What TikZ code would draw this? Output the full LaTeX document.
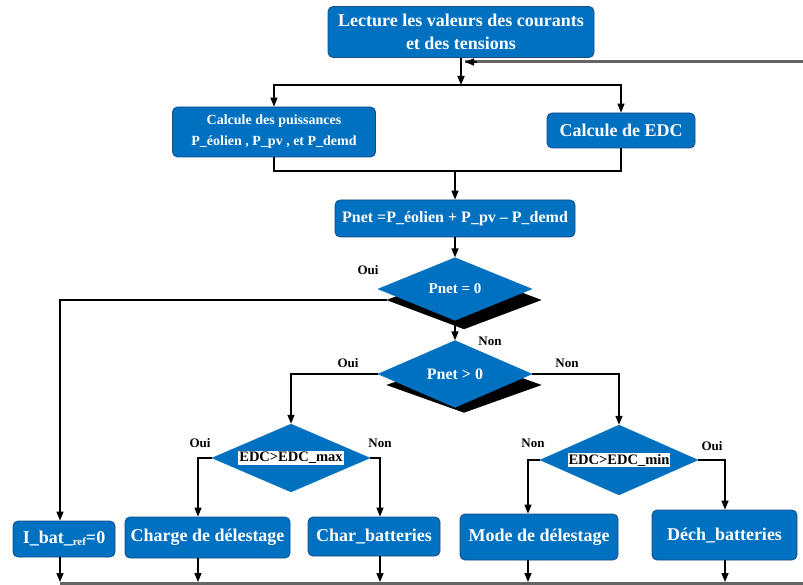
\documentclass[tikz,border=0pt]{standalone}
\usepackage{fontspec}
\setmainfont{Liberation Serif}
\usetikzlibrary{shapes.geometric,arrows.meta,calc}
\definecolor{boxblue}{RGB}{0,112,192}
\definecolor{boxedge}{RGB}{25,75,135}
\definecolor{fbgray}{RGB}{100,100,100}
\newcommand{\fsz}[2]{\fontsize{#1}{#2}\selectfont\bfseries}
\begin{document}
\begin{tikzpicture}[x=1pt,y=-1pt,
  proc/.style={rectangle, rounded corners=5pt, fill=boxblue, draw=boxedge, line width=0.8pt, text=white, align=center, inner sep=0pt},
  dec/.style={diamond, fill=boxblue, draw=boxblue, inner sep=0pt, text=white},
  shad/.style={diamond, fill=black, draw=black, inner sep=0pt},
  conn/.style={line width=1.5pt, draw=black},
  arr/.style={conn, -{Triangle[length=9pt,width=7pt]}},
  fb/.style={line width=3pt, draw=fbgray},
  lab/.style={font=\fsz{13}{15}, text=black, inner sep=0pt},
  cond/.style={fill=white, text=black, inner sep=1pt, font=\fsz{14.5}{16}}
]
\useasboundingbox (0,0) rectangle (803,585);
\clip (0,0) rectangle (803,585);

% coordinates
\coordinate (j1) at (461,85);
\coordinate (j2) at (455,171);
\coordinate (fbtip) at (465,62);
\coordinate (fbc1) at (830,583);
\coordinate (fbc2) at (830,62);
\coordinate (bl) at (60,583);
\coordinate (xa) at (60,0);
\coordinate (xb) at (198,0);
\coordinate (xc) at (380,0);
\coordinate (xd) at (528,0);
\coordinate (xe) at (725,0);

% process boxes
\node[proc, minimum width=266pt, minimum height=51pt, font=\fsz{18}{23}] (top) at (461,32) {Lecture les valeurs des courants\\et des tensions};
\node[proc, minimum width=203pt, minimum height=50pt, font=\fsz{14}{21}] (calc1) at (274,132) {Calcule des puissances\\P\_éolien , P\_pv , et P\_demd};
\node[proc, minimum width=148pt, minimum height=35pt, font=\fsz{18}{22}] (edc) at (621,130.5) {Calcule de EDC};
\node[proc, minimum width=240pt, minimum height=37pt, font=\fsz{16}{20}] (pnet) at (455,218.5) {Pnet =P\_éolien + P\_pv – P\_demd};

\node[proc, minimum width=102pt, minimum height=36pt, font=\fsz{18}{22}] (ibat) at (64,539) {I\_bat\_\raisebox{-1.5pt}{\fontsize{11}{11}\selectfont\bfseries ref}=0};
\node[proc, minimum width=165pt, minimum height=41pt, font=\fsz{18}{22}] (charge) at (207.5,537.5) {Charge de délestage};
\node[proc, minimum width=132pt, minimum height=39pt, font=\fsz{18}{22}] (charbat) at (374,536.5) {Char\_batteries};
\node[proc, minimum width=158pt, minimum height=46pt, font=\fsz{18}{22}] (mode) at (539,537) {Mode de délestage};
\node[proc, minimum width=145pt, minimum height=50pt, font=\fsz{18}{22}] (dech) at (724.5,535) {Déch\_batteries};

% connectors (drawn before diamonds)
\draw[arr] (top.south -| j1) -- (j1);
\draw[arr] (j1) -| (calc1.north);
\draw[arr] (j1) -| (edc.north);
\draw[conn] (calc1.south) |- (j2);
\draw[conn] (edc.south) |- (j2);
\draw[arr] (j2) -- (pnet.north);

% decisions
\node[shad, minimum width=154pt, minimum height=58pt] (d1s) at (464,300) {};
\node[shad, minimum width=154pt, minimum height=55pt] (d2s) at (464,385) {};
\node[dec, minimum width=154pt, minimum height=58pt, font=\fsz{15}{18}] (d1) at (455,289) {Pnet = 0};
\node[dec, minimum width=154pt, minimum height=55pt, font=\fsz{16}{18}] (d2) at (455,374) {Pnet > 0};
\node[dec, minimum width=158pt, minimum height=68pt] (d3) at (291,458) {};
\node[dec, minimum width=158pt, minimum height=70pt] (d4) at (619,460) {};
\node[cond] (t3) at (d3) {EDC>EDC\_max};
\node[cond] (t4) at (d4) {EDC>EDC\_min};

\draw[arr] (pnet.south) -- (d1.north);
\draw[arr] (d1.south) -- (d2.north);
\draw[arr] (d1s.west) -| (xa |- ibat.north);
\draw[arr] (d2.west) -| (d3.north);
\draw[arr] (d2.east) -| (d4.north);
\draw[arr] (d3.west) -| (xb |- charge.north);
\draw[arr] (d3.east) -| (xc |- charbat.north);
\draw[arr] (d4.west) -| (xd |- mode.north);
\draw[arr] (d4.east) -| (xe |- dech.north);

% feedback loop
\draw[fb] (bl) -- (fbc1) -- (fbc2) -- (fbtip);
\draw[conn, -{Triangle[length=9pt,width=7pt]}] ($(fbtip)+(12,0)$) -- (fbtip);

% bottom arrows
\draw[arr] (xa |- ibat.south) -- ($(xa |- bl)+(0,-1)$);
\draw[arr] (xb |- charge.south) -- ($(xb |- bl)+(0,-1)$);
\draw[arr] (xc |- charbat.south) -- ($(xc |- bl)+(0,-1)$);
\draw[arr] (xd |- mode.south) -- ($(xd |- bl)+(0,-1)$);
\draw[arr] (xe |- dech.south) -- ($(xe |- bl)+(0,-1)$);

% labels
\node[lab] (l1) at (368,270) {Oui};
\node[lab] (l2) at (490,341) {Non};
\node[lab] (l3) at (348,363) {Oui};
\node[lab] (l4) at (567,363) {Non};
\node[lab] (l5) at (200,443) {Oui};
\node[lab] (l6) at (380,443) {Non};
\node[lab] (l7) at (533,443) {Non};
\node[lab] (l8) at (712,446) {Oui};
\end{tikzpicture}
\end{document}
